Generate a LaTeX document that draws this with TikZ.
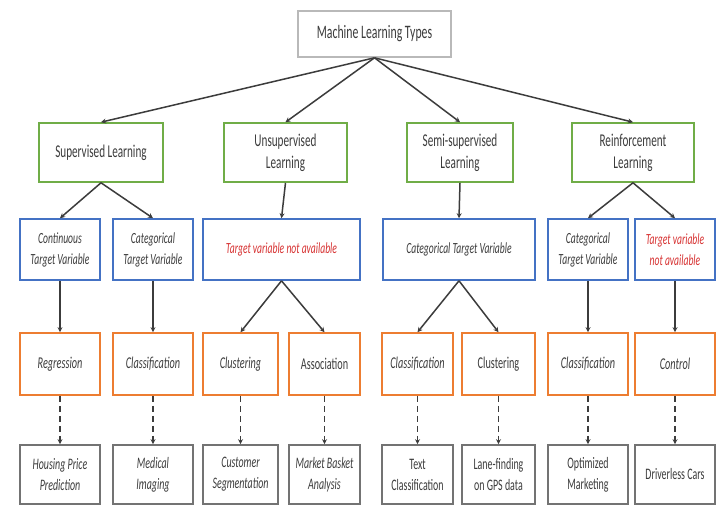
\documentclass[tikz,border=0pt]{standalone}
\usepackage{fontspec}
\setmainfont[FakeStretch=0.62]{Carlito}
\usetikzlibrary{arrows.meta}
\definecolor{gr}{RGB}{112,173,71}
\definecolor{bl}{RGB}{68,114,196}
\definecolor{orr}{RGB}{237,125,49}
\definecolor{gy}{RGB}{115,115,115}
\definecolor{tx}{RGB}{60,60,60}
\definecolor{rd}{RGB}{215,50,50}
\definecolor{ln}{RGB}{60,60,60}
\definecolor{tb}{RGB}{185,185,185}
\tikzset{
  base/.style={rectangle, line width=1.6pt, align=center, text=tx, inner sep=1pt, fill=white},
  topbox/.style={base, draw=tb, minimum width=153pt, minimum height=46pt, font=\fontsize{19}{21}\selectfont},
  gbox/.style={base, draw=gr, minimum height=59pt, font=\fontsize{18}{22}\selectfont},
  bbox/.style={base, draw=bl, minimum height=61pt, font=\fontsize{15.5}{21}\selectfont\itshape},
  obox/.style={base, draw=orr, minimum height=62pt, font=\fontsize{16.5}{20}\selectfont\itshape},
  ybox/.style={base, draw=gy, minimum height=59pt, font=\fontsize{16}{21}\selectfont},
  arr/.style={draw=ln, line width=1.5pt, -{Stealth[length=5pt,width=5pt]}},
  darr/.style={arr, dash pattern=on 6pt off 4pt},
}
\begin{document}
\begin{tikzpicture}[x=1pt,y=1pt]
\useasboundingbox (0,0) rectangle (720,506);
\fill[white] (0,0) rectangle (720,506);
% top
\node[topbox] (top) at (374.5,472) {Machine Learning Types};
% level 2
\node[gbox, minimum width=124pt] (sup) at (101,353.5) {Supervised Learning};
\node[gbox, minimum width=123pt] (uns) at (285.5,353.5) {Unsupervised\\Learning};
\node[gbox, minimum width=106pt] (semi) at (460,353.5) {Semi-supervised\\Learning};
\node[gbox, minimum width=122pt] (rein) at (633,353.5) {Reinforcement\\Learning};
% level 3
\node[bbox, minimum width=80pt] (cont) at (60,256.5) {Continuous\\Target Variable};
\node[bbox, minimum width=80pt] (cat1) at (153,256.5) {Categorical\\Target Variable};
\node[bbox, minimum width=157pt, text=rd] (tv1) at (281.5,256.5) {Target variable not available};
\node[bbox, minimum width=152pt] (cat2) at (459,256.5) {Categorical Target Variable};
\node[bbox, minimum width=80pt] (cat3) at (588,256.5) {Categorical\\Target Variable};
\node[bbox, minimum width=80pt, text=rd] (tv2) at (675,256.5) {Target variable\\not available};
% level 4
\node[obox, minimum width=80pt] (reg) at (60,142) {Regression};
\node[obox, minimum width=80pt] (cls1) at (153,142) {Classification};
\node[obox, minimum width=75pt] (clu1) at (240.5,142) {Clustering};
\node[obox, minimum width=71pt, font=\fontsize{16.5}{20}\selectfont] (asso) at (324.5,142) {Association};
\node[obox, minimum width=71pt] (cls2) at (417.5,142) {Classification};
\node[obox, minimum width=73pt, font=\fontsize{16.5}{20}\selectfont] (clu2) at (498.5,142) {Clustering};
\node[obox, minimum width=80pt] (cls3) at (588,142) {Classification};
\node[obox, minimum width=80pt] (ctrl) at (675,142) {Control};
% level 5
\node[ybox, minimum width=80pt, font=\fontsize{16}{21}\selectfont\itshape] (hou) at (60,31.5) {Housing Price\\Prediction};
\node[ybox, minimum width=80pt, font=\fontsize{16}{21}\selectfont\itshape] (med) at (153,31.5) {Medical\\Imaging};
\node[ybox, minimum width=75pt, font=\fontsize{16}{21}\selectfont\itshape] (cus) at (240.5,31.5) {Customer\\Segmentation};
\node[ybox, minimum width=71pt, font=\fontsize{16}{21}\selectfont\itshape] (mkt) at (324.5,31.5) {Market Basket\\Analysis};
\node[ybox, minimum width=71pt] (txt) at (417.5,31.5) {Text\\Classification};
\node[ybox, minimum width=73pt] (lan) at (498.5,31.5) {Lane-finding\\on GPS data};
\node[ybox, minimum width=80pt] (opt) at (588,31.5) {Optimized\\Marketing};
\node[ybox, minimum width=80pt] (drv) at (675,31.5) {Driverless Cars};
% connectors
\foreach \c in {sup,uns,semi,rein} \draw[arr] (top.south) -- (\c.north);
\draw[arr] (sup.south) -- (cont.north);
\draw[arr] (sup.south) -- (cat1.north);
\draw[arr] (uns.south) -- (tv1.north);
\draw[arr] (semi.south) -- (cat2.north);
\draw[arr] (rein.south) -- (cat3.north);
\draw[arr] (rein.south) -- (tv2.north);
\draw[arr] (cont.south) -- (reg.north);
\draw[arr] (cat1.south) -- (cls1.north);
\draw[arr] (tv1.south) -- (clu1.north);
\draw[arr] (tv1.south) -- (asso.north);
\draw[arr] (cat2.south) -- (cls2.north);
\draw[arr] (cat2.south) -- (clu2.north);
\draw[arr] (cat3.south) -- (cls3.north);
\draw[arr] (tv2.south) -- (ctrl.north);
\draw[darr] (reg.south) -- (hou.north);
\draw[darr] (cls1.south) -- (med.north);
\draw[darr] (clu1.south) -- (cus.north);
\draw[darr] (asso.south) -- (mkt.north);
\draw[darr] (cls2.south) -- (txt.north);
\draw[darr] (clu2.south) -- (lan.north);
\draw[darr] (cls3.south) -- (opt.north);
\draw[darr] (ctrl.south) -- (drv.north);
\end{tikzpicture}
\end{document}
